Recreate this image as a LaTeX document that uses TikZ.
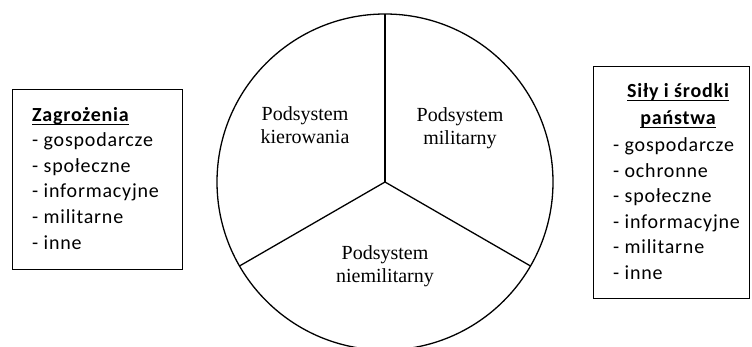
\documentclass[tikz,border=0pt]{standalone}
\usepackage{fontspec}
\usetikzlibrary{calc}
\setmainfont{Liberation Serif}
\newfontfamily\boxfont[LetterSpace=4]{Carlito}
\newcommand\myul[1]{\setbox0\hbox{#1}\rlap{\rule[-3.2pt]{\wd0}{1.5pt}}\box0}
\tikzset{
  x=1pt,y=1pt,
  line/.style={line width=1.3pt,black},
  frame/.style={draw,line width=1.3pt,rectangle,inner sep=0pt,anchor=north west},
  sector/.style={font=\fontsize{20}{23}\selectfont,align=center,inner sep=0pt},
  listtext/.style={font=\boxfont\fontsize{20}{25.6}\selectfont,inner sep=0pt},
}
\begin{document}
\begin{tikzpicture}
\useasboundingbox (0,0) rectangle (752,-347);
% circle with three sectors
\coordinate (c) at (385,-182);
\draw[line] (c) circle (168);
\coordinate (top) at ($(c)+(90:168)$);
\coordinate (rt) at ($(c)+(-30:168)$);
\coordinate (lt) at ($(c)+(210:168)$);
\draw[line] (c) -- (top);
\draw[line] (c) -- (rt);
\draw[line] (c) -- (lt);
\node[sector] (kier) at (305,-125) {Podsystem\\kierowania};
\node[sector] (mil) at (460,-128) {Podsystem\\militarny};
\node[sector] (niem) at (385,-266) {Podsystem\\niemilitarny};
% left box
\node[frame,minimum width=170,minimum height=180] (zbox) at (12,-89) {};
\node[listtext,anchor=base west] (z0) at (32,-122) {\textbf{\myul{Zagrożenia}}};
\node[listtext,anchor=base west] (z1) at (32,-147) {- gospodarcze};
\node[listtext,anchor=base west] (z2) at (32,-172.5) {- społeczne};
\node[listtext,anchor=base west] (z3) at (32,-198) {- informacyjne};
\node[listtext,anchor=base west] (z4) at (32,-224) {- militarne};
\node[listtext,anchor=base west] (z5) at (32,-249.5) {- inne};
% right box
\node[frame,minimum width=156,minimum height=232] (sbox) at (593,-66) {};
\node[listtext,anchor=base] (s0) at (678,-98) {\textbf{\myul{Siły i środki}}};
\node[listtext,anchor=base] (s1) at (678,-125) {\textbf{\myul{państwa}}};
\node[listtext,anchor=base west] (s2) at (613,-152) {- gospodarcze};
\node[listtext,anchor=base west] (s3) at (613,-177.5) {- ochronne};
\node[listtext,anchor=base west] (s4) at (613,-203) {- społeczne};
\node[listtext,anchor=base west] (s5) at (613,-228.5) {- informacyjne};
\node[listtext,anchor=base west] (s6) at (613,-254) {- militarne};
\node[listtext,anchor=base west] (s7) at (613,-279.5) {- inne};
\end{tikzpicture}
\end{document}
